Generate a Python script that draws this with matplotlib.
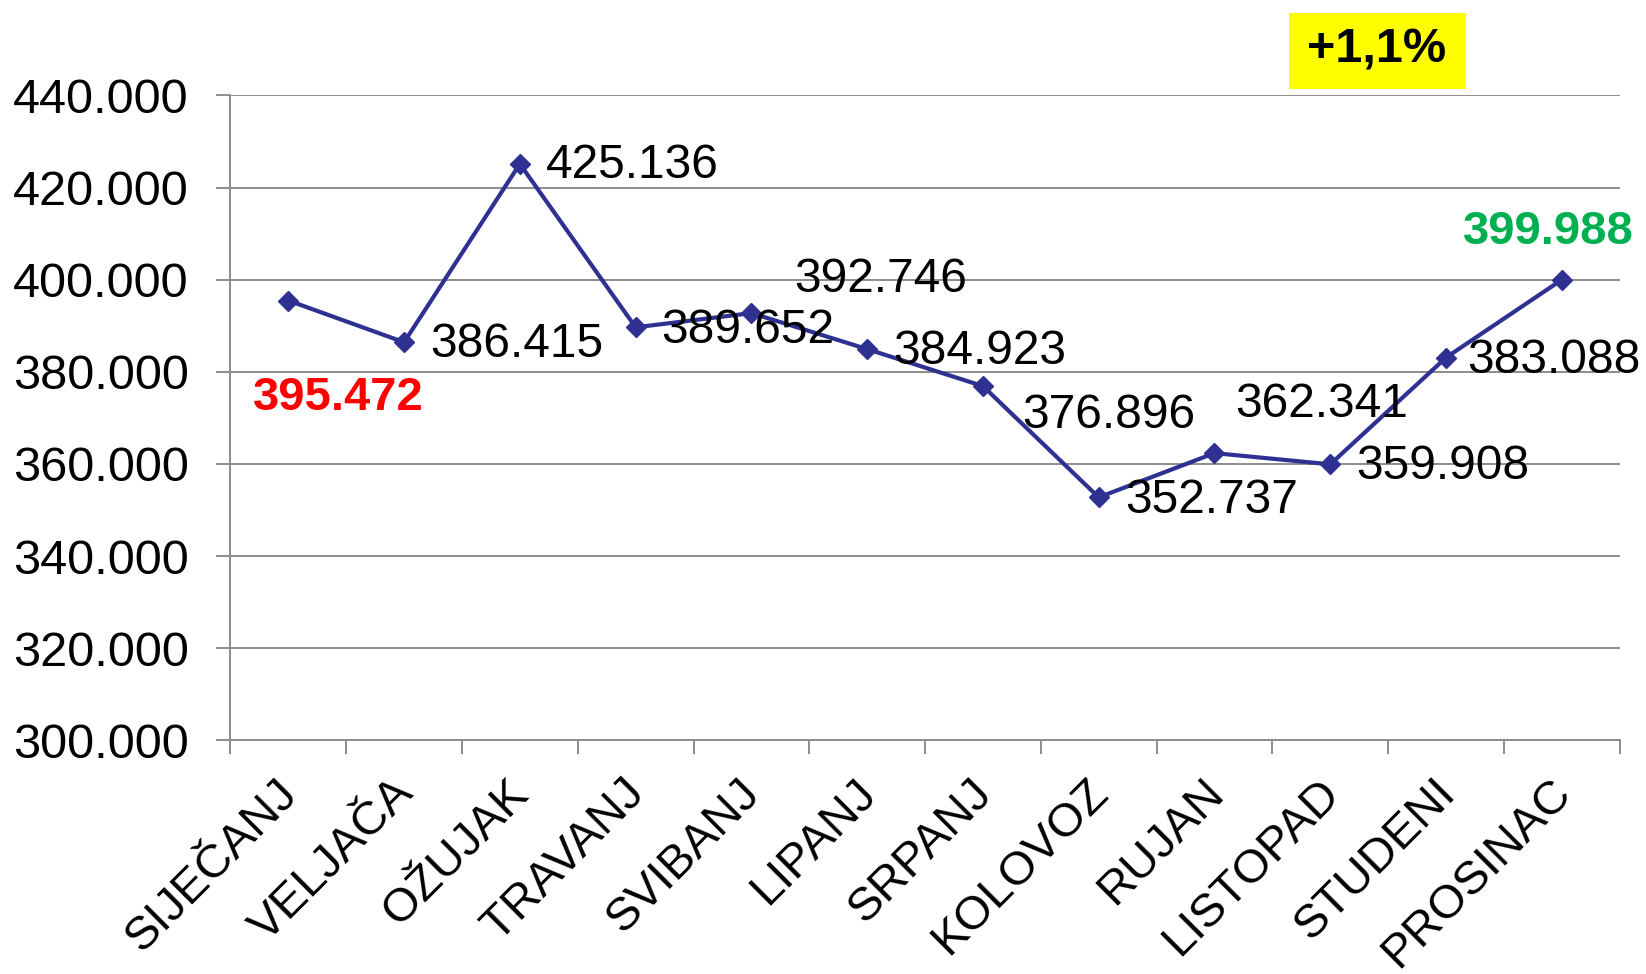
import numpy as np
import matplotlib.pyplot as plt
import matplotlib.transforms as mtransforms
from matplotlib.patches import Rectangle
from matplotlib.ticker import FuncFormatter, MultipleLocator

plt.rcParams['font.family'] = ['Liberation Sans', 'DejaVu Sans']

months = ['SIJEČANJ', 'VELJAČA', 'OŽUJAK', 'TRAVANJ', 'SVIBANJ', 'LIPANJ',
          'SRPANJ', 'KOLOVOZ', 'RUJAN', 'LISTOPAD', 'STUDENI', 'PROSINAC']
values = [395.472, 386.415, 425.136, 389.652, 392.746, 384.923,
          376.896, 352.737, 362.341, 359.908, 383.088, 399.988]
change_text = '+1,1%'

# label offsets in pixels (dx, dy) from the marker
offsets = [(50, -97), (26, -2), (26, -2), (26, -3), (43, 34), (26, -2),
           (39, -29), (27, -3), (21, 49), (26, -2), (21, -3), (-13, 48)]

line_color = '#2E3192'
grid_color = '#8C8C8C'

fig = plt.figure(figsize=(16.46, 9.74), dpi=100)
ax = fig.add_axes([0.140, 0.240, 0.844, 0.662])

x = np.arange(len(months))
ax.plot(x, values, color=line_color, lw=3.0, marker='D', markersize=10.5,
        zorder=3)

ax.set_xlim(-0.5, len(months) - 0.5)
ax.set_ylim(300, 440)
ax.yaxis.set_major_locator(MultipleLocator(20))
ax.yaxis.set_major_formatter(FuncFormatter(lambda v, p: '%d.000' % v))
ax.grid(axis='y', color=grid_color, lw=1.4, zorder=0)

for s in ['top', 'right']:
    ax.spines[s].set_visible(False)
for s in ['left', 'bottom']:
    ax.spines[s].set_color(grid_color)
    ax.spines[s].set_linewidth(1.4)

ax.tick_params(axis='y', length=10, width=1.4, color=grid_color, pad=20,
               labelsize=35)
ax.set_xticks(x)
ax.set_xticklabels(months, rotation=45, ha='right', rotation_mode='anchor',
                   fontsize=34)
ax.tick_params(axis='x', which='major', length=0, pad=22)
ax.set_xticks(np.arange(len(months) + 1) - 0.5, minor=True)
ax.tick_params(axis='x', which='minor', length=10, width=1.4,
               color=grid_color)
shift = mtransforms.ScaledTranslation(-13 / 100, 0, fig.dpi_scale_trans)
for lab in ax.get_xticklabels():
    lab.set_transform(lab.get_transform() + shift)

for i, v in enumerate(values):
    dx, dy = offsets[i]
    txt = ('%.3f' % v)
    if i == 0:
        ax.annotate(txt, (x[i], v), xytext=(dx * 0.72, dy * 0.72),
                    textcoords='offset points', ha='center', va='center',
                    fontsize=34, fontweight='bold', color='#FF0000')
    elif i == len(values) - 1:
        ax.annotate(txt, (x[i], v), xytext=(dx * 0.72, dy * 0.72),
                    textcoords='offset points', ha='center', va='center',
                    fontsize=34, fontweight='bold', color='#00B050')
    else:
        ax.annotate(txt, (x[i], v), xytext=(dx * 0.72, dy * 0.72),
                    textcoords='offset points', ha='left', va='center',
                    fontsize=34.5, color='black')

fig.patches.append(Rectangle((1289 / 1646, 1 - 89 / 974), 177 / 1646,
                             76.5 / 974, transform=fig.transFigure,
                             fc='#FFFF00', ec='none'))
fig.text(1377 / 1646, 1 - 50 / 974, change_text, ha='center', va='center',
         fontsize=35, fontweight='bold')

fig.savefig('out.png', dpi=100)
